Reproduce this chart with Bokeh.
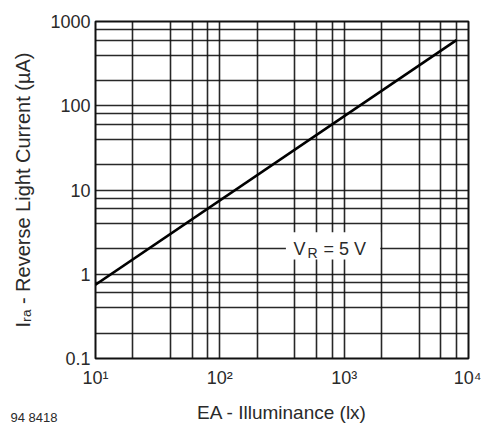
from bokeh.plotting import figure
from bokeh.models import FixedTicker, Label, BoxAnnotation
from bokeh.embed import file_html
from bokeh.resources import INLINE

# ---- data ----
illum_lx = [10, 8000]          # E_A (lx)
current_ua = [0.75, 600]       # I_ra (uA)

grid_mults = [1, 2, 4, 6, 8]
x_decades = [10, 100, 1000]
y_decades = [0.1, 1, 10, 100]
x_major = [10, 100, 1000, 10000]
x_major_labels = ["10¹", "10²", "10³", "10⁴"]
y_major = [0.1, 1, 10, 100, 1000]
y_major_labels = ["0.1", "1", "10", "100", "1000"]

x_ticks = [d * m for d in x_decades for m in grid_mults] + [10000]
y_ticks = [round(d * m, 6) for d in y_decades for m in grid_mults] + [1000]

FONT = "Liberation Sans"
TXT = "#2a2a2a"

p = figure(width=481, height=425, x_axis_type="log", y_axis_type="log",
           x_range=(10, 10000), y_range=(0.1, 1000),
           output_backend="svg", toolbar_location=None,
           min_border_left=95, min_border_right=13, min_border_top=21,
           min_border_bottom=67)

p.xaxis.ticker = FixedTicker(ticks=x_ticks)
p.yaxis.ticker = FixedTicker(ticks=y_ticks)
xo = {t: "" for t in x_ticks}
xo.update({t: l for t, l in zip(x_major, x_major_labels)})
yo = {t: "" for t in y_ticks}
yo.update({t: l for t, l in zip(y_major, y_major_labels)})
p.xaxis.major_label_overrides = xo
p.yaxis.major_label_overrides = yo

for ax in (p.xaxis, p.yaxis):
    ax.major_tick_out = 0
    ax.major_tick_in = 0
    ax.minor_tick_out = 0
    ax.minor_tick_in = 0
    ax.axis_line_color = None
    ax.major_label_text_font = FONT
    ax.major_label_text_font_size = "18px"
    ax.major_label_text_color = TXT
    ax.axis_label_text_font = FONT
    ax.axis_label_text_font_style = "normal"
    ax.axis_label_text_color = TXT

p.xaxis.major_label_standoff = 9
p.xaxis.axis_label = "EA - Illuminance (lx)"
p.xaxis.axis_label_text_font_size = "19px"
p.xaxis.axis_label_standoff = 11
p.yaxis.major_label_standoff = 5
p.yaxis.axis_label = "Iᵣₐ - Reverse Light Current (µA)"
p.yaxis.axis_label_text_font_size = "20px"
p.yaxis.axis_label_standoff = 13

for g in (p.xgrid, p.ygrid):
    g.grid_line_color = "#111111"
    g.grid_line_width = 1.6
    g.grid_line_alpha = 0.9
    g.minor_grid_line_color = None

p.outline_line_color = "#111111"
p.outline_line_width = 2
p.background_fill_color = "white"
p.border_fill_color = "white"

p.line(illum_lx, current_ua, line_color="black", line_width=2.6)

# label box
p.add_layout(BoxAnnotation(left=340, right=1950, bottom=1.5, top=3.15,
                           fill_color="white", fill_alpha=1.0, line_color=None))
p.add_layout(Label(x=392, y=2, text="V", text_font=FONT, text_font_size="18px",
                   text_color=TXT, text_baseline="middle"))
p.add_layout(Label(x=392, y=2, x_offset=14, y_offset=-4, text="R", text_font=FONT,
                   text_font_size="14px", text_color=TXT, text_baseline="middle"))
p.add_layout(Label(x=392, y=2, x_offset=30, text="= 5 V", text_font=FONT,
                   text_font_size="18px", text_color=TXT, text_baseline="middle"))

# figure code, bottom-left corner (placed from the top panel, not clipped)
p.add_layout(Label(x=-85, y=-396, x_units="screen", y_units="screen",
                   text="94 8418", text_font=FONT, text_font_size="13px",
                   text_color=TXT, text_align="left", text_baseline="alphabetic"),
             "above")

open("out.html", "w").write(file_html(p, INLINE))
